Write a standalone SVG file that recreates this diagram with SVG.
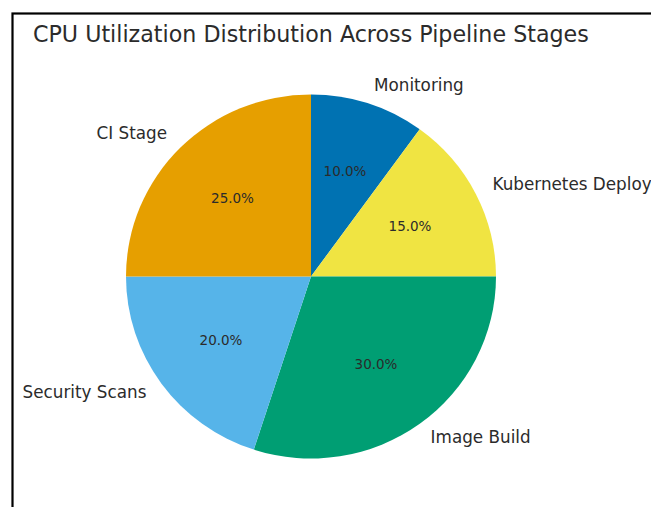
<svg xmlns="http://www.w3.org/2000/svg" width="651" height="507" viewBox="0 0 651 507">
<style>
.t{font-family:"DejaVu Sans",sans-serif;fill:#2b2b2b}
.title{font-size:22.2px}
.lab{font-size:16.8px}
.pct{font-size:13.5px;text-anchor:middle}
</style>
<rect x="0" y="0" width="651" height="507" fill="#ffffff"/>
<rect x="12.5" y="13.5" width="700" height="600" fill="none" stroke="#000" stroke-width="2.2"/>
<text class="t title" x="33" y="42">CPU Utilization Distribution Across Pipeline Stages</text>
<g id="monitoring">
<path d="M311,276.5 L311,94.5 A185,182 0 0 1 419.7,129.3 Z" fill="#0072B2"/>
<text class="t lab" x="374" y="90.5">Monitoring</text>
<text class="t pct" x="345" y="176">10.0%</text>
</g>
<g id="kubernetes">
<path d="M311,276.5 L419.7,129.3 A185,182 0 0 1 496,276.5 Z" fill="#F0E442"/>
<text class="t lab" x="492.5" y="190">Kubernetes Deploy</text>
<text class="t pct" x="410" y="230.5">15.0%</text>
</g>
<g id="image-build">
<path d="M311,276.5 L496,276.5 A185,182 0 0 1 253.8,449.6 Z" fill="#009E73"/>
<text class="t lab" x="430.6" y="443">Image Build</text>
<text class="t pct" x="376" y="368.5">30.0%</text>
</g>
<g id="security-scans">
<path d="M311,276.5 L253.8,449.6 A185,182 0 0 1 126,276.5 Z" fill="#56B4E9"/>
<text class="t lab" x="146.4" y="398.3" text-anchor="end">Security Scans</text>
<text class="t pct" x="221" y="344.5">20.0%</text>
</g>
<g id="ci-stage">
<path d="M311,276.5 L126,276.5 A185,182 0 0 1 311,94.5 Z" fill="#E69F00"/>
<text class="t lab" x="167" y="139.3" text-anchor="end">CI Stage</text>
<text class="t pct" x="232.5" y="202.5">25.0%</text>
</g>
<g id="connectors"></g>
</svg>
